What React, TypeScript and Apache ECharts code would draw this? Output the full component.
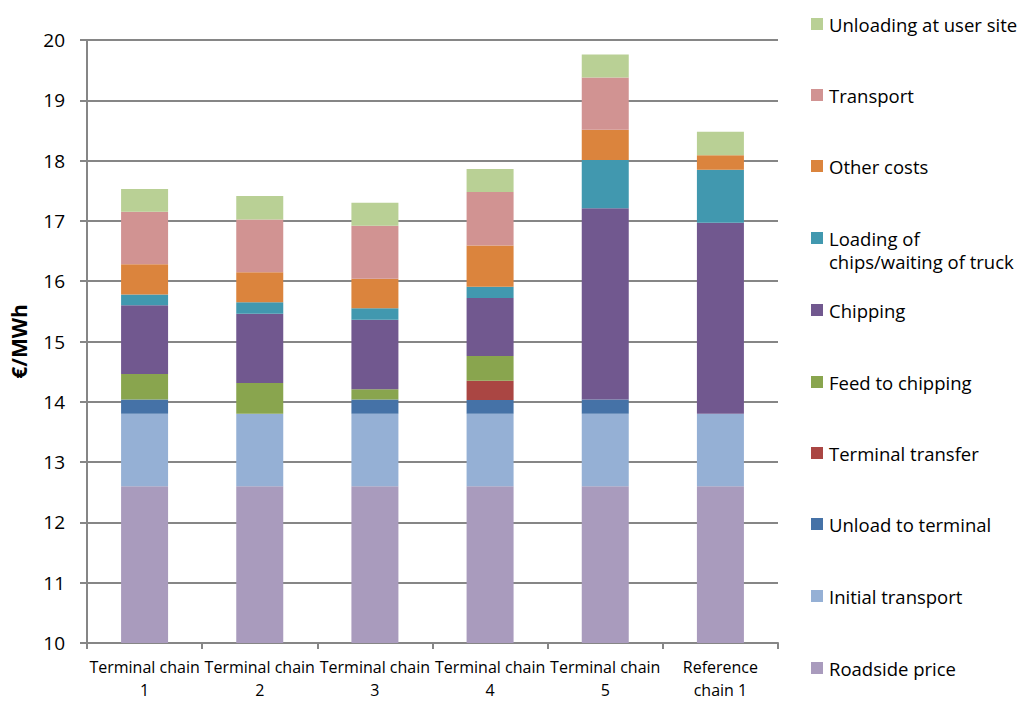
import React, { useEffect, useRef } from "react";
import * as echarts from "echarts";

const categories = [
  "Terminal chain\n1",
  "Terminal chain\n2",
  "Terminal chain\n3",
  "Terminal chain\n4",
  "Terminal chain\n5",
  "Reference\nchain 1",
];

const roadsidePrice = [12.6, 12.6, 12.6, 12.6, 12.6, 12.6];
const initialTransport = [1.2, 1.2, 1.2, 1.2, 1.2, 1.2];
const unloadToTerminal = [0.24, 0, 0.24, 0.23, 0.24, 0];
const terminalTransfer = [0, 0, 0, 0.32, 0, 0];
const feedToChipping = [0.42, 0.51, 0.17, 0.41, 0, 0];
const chipping = [1.14, 1.15, 1.15, 0.96, 3.17, 3.17];
const loadingOfChips = [0.18, 0.19, 0.19, 0.19, 0.8, 0.88];
const otherCosts = [0.5, 0.5, 0.49, 0.68, 0.5, 0.24];
const transport = [0.87, 0.875, 0.88, 0.89, 0.87, 0];
const unloadingAtUserSite = [0.38, 0.39, 0.38, 0.38, 0.38, 0.39];

const yTicks = [10, 11, 12, 13, 14, 15, 16, 17, 18, 19, 20];

const seriesDefs = [
  { name: "Roadside price", data: roadsidePrice, color: "#A99BBD" },
  { name: "Initial transport", data: initialTransport, color: "#95B0D5" },
  { name: "Unload to terminal", data: unloadToTerminal, color: "#4572A7" },
  { name: "Terminal transfer", data: terminalTransfer, color: "#AA4643" },
  { name: "Feed to chipping", data: feedToChipping, color: "#89A54E" },
  { name: "Chipping", data: chipping, color: "#71588F" },
  { name: "Loading of chips/waiting of truck", data: loadingOfChips, color: "#4198AF" },
  { name: "Other costs", data: otherCosts, color: "#DB843D" },
  { name: "Transport", data: transport, color: "#D19392" },
  { name: "Unloading at user site", data: unloadingAtUserSite, color: "#B9D095" },
];

// legend rows, top to bottom (first-line centre y)
const legendRows = [
  { name: "Unloading at user site", y: 24 },
  { name: "Transport", y: 95 },
  { name: "Other costs", y: 166 },
  { name: "Loading of chips/waiting of truck", y: 238 },
  { name: "Chipping", y: 310 },
  { name: "Feed to chipping", y: 382 },
  { name: "Terminal transfer", y: 453 },
  { name: "Unload to terminal", y: 524 },
  { name: "Initial transport", y: 596 },
  { name: "Roadside price", y: 668 },
];

const FONT = "'Open Sans', 'Noto Sans', sans-serif";
const LEGEND_FONT = 18.5;

export default function App() {
  const ref = useRef<HTMLDivElement>(null);

  useEffect(() => {
    document.body.style.margin = "0";
    if (!ref.current) return;
    const chart = echarts.init(ref.current, undefined, { renderer: "svg" });
    const option: any = {
      animation: false,
      backgroundColor: "#ffffff",
      textStyle: { fontFamily: FONT },
      grid: { left: 80, right: 245, top: 40, bottom: 75, containLabel: false },
      legend: legendRows.map((r) => ({
        data: [r.name],
        orient: "vertical",
        left: 811,
        top: r.y - 13,
        padding: 0,
        itemWidth: 12,
        itemHeight: 12,
        itemGap: 0,
        icon: "rect",
        selectedMode: false,
        formatter: (n: string) =>
          n === "Loading of chips/waiting of truck" ? "Loading of" : n,
        textStyle: {
          fontFamily: FONT,
          fontSize: LEGEND_FONT,
          lineHeight: 26,
          color: "#000",
          padding: [0, 0, 0, 1],
        },
      })),
      graphic: [
        {
          type: "text",
          left: 829,
          top: 252,
          style: {
            text: "chips/waiting of truck",
            fontFamily: FONT,
            fontSize: LEGEND_FONT,
            fill: "#000",
          },
        },
      ],
      xAxis: {
        type: "category",
        data: categories,
        axisLine: { show: true, lineStyle: { color: "#868686", width: 2 } },
        axisTick: { show: true, alignWithLabel: false, length: 6, lineStyle: { color: "#868686", width: 2 } },
        axisLabel: {
          interval: 0,
          fontFamily: FONT,
          fontSize: 16,
          color: "#000",
          lineHeight: 23,
          margin: 12,
        },
      },
      yAxis: {
        type: "value",
        min: yTicks[0],
        max: yTicks[yTicks.length - 1],
        interval: 1,
        name: "€/MWh",
        nameLocation: "middle",
        nameGap: 58,
        nameRotate: 90,
        nameTextStyle: { fontFamily: FONT, fontSize: 21, fontWeight: "bold", color: "#000" },
        axisLine: { show: true, lineStyle: { color: "#868686", width: 2 } },
        axisTick: { show: true, length: 7, lineStyle: { color: "#868686", width: 2 } },
        axisLabel: { fontFamily: FONT, fontSize: 19, color: "#000", margin: 22 },
        splitLine: { show: true, lineStyle: { color: "#868686", width: 2 } },
      },
      series: seriesDefs.map((s) => ({
        name: s.name,
        type: "bar",
        stack: "total",
        barWidth: 47,
        data: s.data,
        itemStyle: { color: s.color },
        emphasis: { disabled: true },
      })),
    };
    chart.setOption(option);
    return () => chart.dispose();
  }, []);

  return <div ref={ref} style={{ width: 1023, height: 718 }} />;
}
